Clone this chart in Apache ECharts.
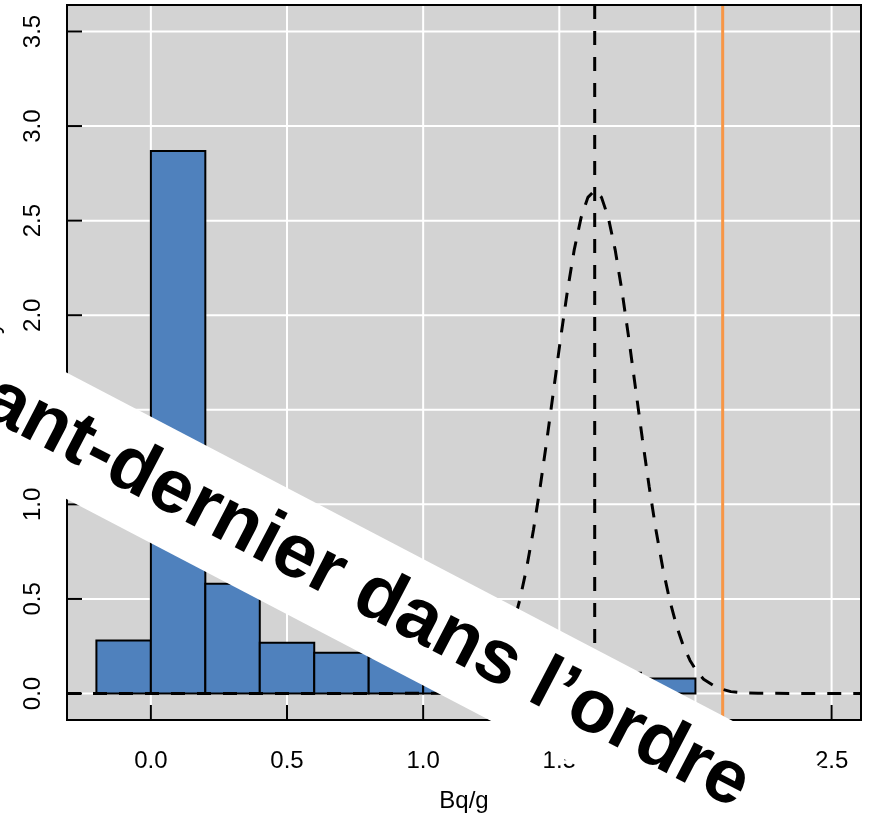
<!DOCTYPE html>
<html>
<head>
<meta charset="utf-8">
<script src="https://cdn.jsdelivr.net/npm/echarts@6/dist/echarts.min.js"></script>
<style>
html,body{margin:0;padding:0;background:#fff;}
#chart{width:871px;height:818px;}
</style>
</head>
<body>
<div id="chart"></div>
<script>
// ---- data ----
const xRange = [-0.308, 2.608];
const yRange = [-0.14, 3.64];
const xTickValues = [0, 0.5, 1, 1.5, 2, 2.5];
const yTickValues = [0, 0.5, 1, 1.5, 2, 2.5, 3, 3.5];
const binStarts = [-0.2, 0.0, 0.2, 0.4, 0.6, 0.8, 1.0, 1.2, 1.4, 1.6, 1.8];
const binEnds   = [ 0.0, 0.2, 0.4, 0.6, 0.8, 1.0, 1.2, 1.4, 1.6, 1.8, 2.0];
const densities = [0.28, 2.868, 0.58, 0.268, 0.215, 0.192, 0.06, 0.13, 0.15, 0.11, 0.08];
const curveX = [-0.308, 0.5, 1.03, 1.08, 1.13, 1.18, 1.23, 1.255, 1.28, 1.305, 1.33, 1.355, 1.38, 1.405, 1.43, 1.455, 1.48, 1.505, 1.53, 1.555, 1.58, 1.605, 1.63, 1.655, 1.68, 1.705, 1.73, 1.755, 1.78, 1.805, 1.83, 1.855, 1.88, 1.905, 1.93, 1.955, 1.98, 2.005, 2.03, 2.08, 2.13, 2.18, 2.23, 2.608];
const curveY = [0, 0, 0.001, 0.003, 0.010, 0.030, 0.076, 0.117, 0.175, 0.254, 0.360, 0.496, 0.663, 0.864, 1.094, 1.347, 1.613, 1.880, 2.130, 2.347, 2.516, 2.623, 2.660, 2.623, 2.516, 2.347, 2.130, 1.880, 1.613, 1.347, 1.094, 0.864, 0.663, 0.496, 0.360, 0.254, 0.175, 0.117, 0.076, 0.030, 0.010, 0.003, 0.001, 0];
const meanValue = 1.63;
const refValue = 2.1;
const xTitle = 'Bq/g';
const yTitle = 'Density';
const bannerText = 'avant-dernier dans l\u2019ordre';

const FONT = '"Liberation Sans", Arial, Helvetica, sans-serif';
const TICK_LEN = 15;
const chart = echarts.init(document.getElementById('chart'), null, {renderer: 'canvas'});

function vLine(color, width, dash) {
  return function (params, api) {
    const v = api.value(0);
    const p0 = api.coord([v, yRange[1]]);
    const p1 = api.coord([v, yRange[0]]);
    return {type: 'line', shape: {x1: p0[0], y1: p0[1], x2: p1[0], y2: p1[1]},
      style: {stroke: color, lineWidth: width, lineDash: dash || null}};
  };
}
function hLine(color, width) {
  return function (params, api) {
    const v = api.value(1);
    const p0 = api.coord([xRange[0], v]);
    const p1 = api.coord([xRange[1], v]);
    return {type: 'line', shape: {x1: p0[0], y1: p0[1], x2: p1[0], y2: p1[1]},
      style: {stroke: color, lineWidth: width}};
  };
}
function frameAndTicks(params, api) {
  const p0 = api.coord([xRange[0], yRange[1]]);
  const p1 = api.coord([xRange[1], yRange[0]]);
  const children = [{type: 'rect', z2: 1, shape: {x: p0[0], y: p0[1], width: p1[0] - p0[0], height: p1[1] - p0[1]},
    style: {fill: 'rgba(0,0,0,0)', stroke: '#000', lineWidth: 2}}];
  xTickValues.forEach(v => {
    const p = api.coord([v, yRange[0]]);
    children.push({type: 'rect', z2: 2, shape: {x: p[0] - 1, y: p[1] - TICK_LEN, width: 2, height: TICK_LEN},
      style: {fill: '#000000'}});
  });
  yTickValues.forEach(v => {
    const p = api.coord([xRange[0], v]);
    children.push({type: 'rect', z2: 2, shape: {x: p[0], y: p[1] - 1, width: TICK_LEN, height: 2},
      style: {fill: '#000000'}});
  });
  return {type: 'group', children: children};
}

const option = {
  animation: false,
  grid: {left: 67, right: 10, top: 5, bottom: 97, show: true, backgroundColor: '#D3D3D3', borderWidth: 0},
  xAxis: {
    type: 'value', min: xRange[0], max: xRange[1], z: 5,
    axisLine: {show: false, onZero: false},
    splitLine: {show: false},
    axisTick: {show: false},
    axisLabel: {show: true, customValues: xTickValues, margin: 29, fontSize: 24, color: '#000', fontFamily: FONT,
      formatter: v => Number(v).toFixed(1)},
    name: xTitle, nameLocation: 'middle', nameGap: 69,
    nameTextStyle: {fontSize: 24, color: '#000', fontFamily: FONT}
  },
  yAxis: {
    type: 'value', min: yRange[0], max: yRange[1], z: 5,
    axisLine: {show: false, onZero: false},
    splitLine: {show: false},
    axisTick: {show: false},
    axisLabel: {show: true, customValues: yTickValues, rotate: 90, align: 'center', verticalAlign: 'middle', margin: 34,
      fontSize: 24, color: '#000', fontFamily: FONT, formatter: v => Number(v).toFixed(1)}
  },
  series: [
    {type: 'custom', name: 'xgrid', z: 1, silent: true, renderItem: vLine('#FFFFFF', 2),
      data: xTickValues.map(v => [v, 0]), encode: {x: 0, y: 1}},
    {type: 'custom', name: 'ygrid', z: 1, silent: true, renderItem: hLine('#FFFFFF', 2),
      data: yTickValues.map(v => [0, v]), encode: {x: 0, y: 1}},
    {type: 'custom', name: 'hist', z: 2, silent: true,
      renderItem: function (params, api) {
        const p0 = api.coord([api.value(0), api.value(2)]);
        const p1 = api.coord([api.value(1), 0]);
        return {type: 'rect', shape: {x: p0[0], y: p0[1], width: p1[0] - p0[0], height: p1[1] - p0[1]},
          style: {fill: '#4F81BD', stroke: '#000', lineWidth: 2}};
      },
      data: binStarts.map((s, i) => [s, binEnds[i], densities[i]]), encode: {x: [0, 1], y: 2}},
    {type: 'line', name: 'density', z: 3, silent: true, symbol: 'none', showSymbol: false,
      lineStyle: {color: '#000', width: 3, type: [14, 12]},
      data: curveX.map((x, i) => [x, curveY[i]])},
    {type: 'custom', name: 'mean', z: 3, silent: true, renderItem: vLine('#000', 3, [14, 12]),
      data: [[meanValue, 0]], encode: {x: 0, y: 1}},
    {type: 'custom', name: 'ref', z: 3, silent: true, renderItem: vLine('#F79646', 3),
      data: [[refValue, 0]], encode: {x: 0, y: 1}},
    {type: 'custom', name: 'frame', z: 6, silent: true, clip: false, renderItem: frameAndTicks,
      data: [[0.5, 1]], encode: {x: 0, y: 1}}
  ],
  graphic: [
    {type: 'text', x: 4, y: 362, rotation: Math.PI / 2, z: 50,
      style: {text: yTitle, font: '24px ' + FONT, fill: '#000', textAlign: 'center', textVerticalAlign: 'bottom', align: 'center', verticalAlign: 'bottom'}},
    {type: 'group', x: 329, y: 573, rotation: -27.6 * Math.PI / 180, z: 100,
      children: [
        {type: 'rect', z: 100, shape: {x: -1400, y: -56, width: 2800, height: 112}, style: {fill: '#FFFFFF'}},
        {type: 'text', z: 101, x: 0, y: 0,
          style: {text: bannerText, font: 'bold 76px ' + FONT, fill: '#000',
            textAlign: 'center', textVerticalAlign: 'middle', align: 'center', verticalAlign: 'middle'}}
      ]}
  ]
};
chart.setOption(option);
</script>
</body>
</html>
